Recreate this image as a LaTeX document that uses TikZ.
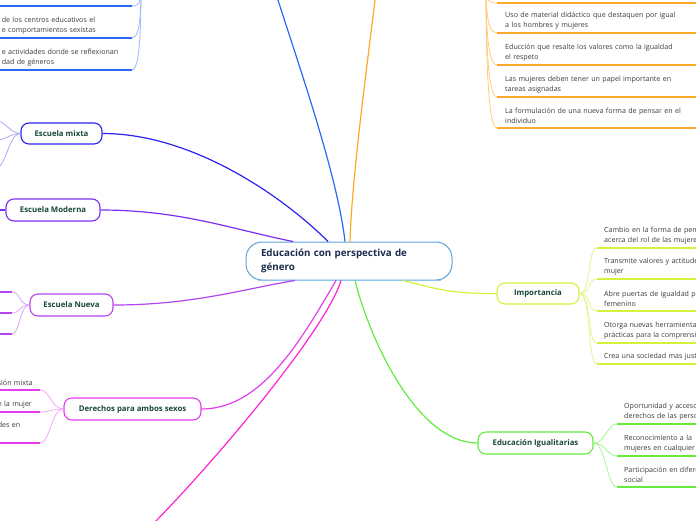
\documentclass[tikz,border=0pt]{standalone}
\usepackage{fontspec}
\setmainfont{Open Sans}
\usetikzlibrary{positioning}
\definecolor{ttl}{HTML}{17473A}
\definecolor{ctr}{HTML}{1C2A4E}
\definecolor{lft}{HTML}{3A3A3A}
\definecolor{ctrb}{HTML}{5CA2D8}
\definecolor{ctrl}{HTML}{8CC4EC}
\definecolor{blu}{HTML}{2A68F5}
\definecolor{blul}{HTML}{9DB9FF}
\definecolor{org}{HTML}{FFA726}
\definecolor{orgl}{HTML}{FFCB7A}
\definecolor{mix}{HTML}{2A22EE}
\definecolor{mixl}{HTML}{ADA6FF}
\definecolor{mod}{HTML}{7B2FF0}
\definecolor{nue}{HTML}{B444EE}
\definecolor{nuel}{HTML}{DBA4F6}
\definecolor{der}{HTML}{E43CEE}
\definecolor{derl}{HTML}{F2A6F6}
\definecolor{mag}{HTML}{FF22D2}
\definecolor{imp}{HTML}{D4F23C}
\definecolor{impl}{HTML}{E4F58C}
\definecolor{igu}{HTML}{62EC3C}
\definecolor{igul}{HTML}{A8F494}
\begin{document}
\begin{tikzpicture}[x=1pt,y=-1pt,
  br/.style={draw=#1,rounded corners=8pt,line width=1.1pt,minimum height=22pt,font=\fontsize{7.8}{9}\selectfont\bfseries,text=ttl},
  lf/.style={inner xsep=0pt,inner ysep=4pt,align=left,font=\fontsize{7.1}{10}\selectfont,text=lft},
  ul/.style={line width=2pt,draw=#1},
  cn/.style={line width=1.2pt,draw=#1},
  sb/.style={line width=0.8pt,draw=#1}]
\useasboundingbox (0,0) rectangle (696,520);
\clip (0,0) rectangle (696,520);
\node[draw=ctrb,line width=1pt,rounded corners=16pt,minimum width=206pt,minimum height=38pt,inner xsep=15pt,text width=176pt,align=left,font=\fontsize{9.8}{14}\selectfont\bfseries,text=ctr] (c0) at (349,261) {Educación con perspectiva de\\género};
\draw[line width=1.6pt,ctrl] ([xshift=12pt]c0.south west) -- ([xshift=-12pt]c0.south east);
\node[br=mix,minimum width=81pt,minimum height=21pt] (b1) at (61.5,133.5) {Escuela mixta};
\node[br=mod,minimum width=94pt] (b2) at (53,210) {Escuela Moderna};
\node[br=nue,minimum width=83pt] (b3) at (71.5,305) {Escuela Nueva};
\node[br=der,minimum width=137pt] (b4) at (132.5,409) {Derechos para ambos sexos};
\node[br=imp,minimum width=82pt,minimum height=21pt] (b5) at (538,293.5) {Importancia};
\node[br=igu,minimum width=115pt] (b6) at (535.5,443) {Educación Igualitarias};
\coordinate (tb) at (270,-25);
\coordinate (to) at (378,-25);
\coordinate (bm) at (150,527);
\coordinate (pL) at (141,-40);
\coordinate (pR) at (486,-40);
\coordinate (t1) at (132,6);
\coordinate (o1) at (497,3);
\coordinate (m1) at (-3,121);
\coordinate (m2) at (-3,140);
\coordinate (m3) at (0,166);
\coordinate (md) at (-3,210);
\coordinate (n1) at (12,292);
\coordinate (n2) at (12,313);
\coordinate (n3) at (12,334);
\node[lf,text width=130pt,anchor=south east] (t2) at (132,38) {de los centros educativos el\\e comportamientos sexistas};
\node[lf,text width=130pt,anchor=south east] (t3) at (132,70) {e actividades donde se reflexionan\\dad de géneros};
\node[lf,text width=200pt,inner xsep=8pt,anchor=south west] (o2) at (497,33) {Uso de material didáctico que destaquen por igual\\a los hombres y mujeres};
\node[lf,text width=200pt,inner xsep=8pt,anchor=south west] (o3) at (497,65) {Educción que resalte los valores como la igualdad\\el respeto};
\node[lf,text width=200pt,inner xsep=8pt,anchor=south west] (o4) at (497,97) {Las mujeres deben tener un papel importante en\\tareas asignadas};
\node[lf,text width=200pt,inner xsep=8pt,anchor=south west] (o5) at (497,128) {La formulación de una nueva forma de pensar en el\\individuo};
\node[lf,text width=120pt,inner xsep=7pt,anchor=south west] (i1) at (597,248) {Cambio en la forma de pensar\\acerca  del rol de las mujeres};
\node[lf,text width=120pt,inner xsep=7pt,anchor=south west] (i2) at (597,279) {Transmite valores y actitudes\\mujer};
\node[lf,text width=120pt,inner xsep=7pt,anchor=south west] (i3) at (597,311) {Abre puertas de igualdad  para\\femenino};
\node[lf,text width=120pt,inner xsep=7pt,anchor=south west] (i4) at (597,343) {Otorga nuevas herramientas\\prácticas para  la comprensión};
\node[lf,text width=120pt,inner xsep=7pt,anchor=south west] (i5) at (597,364) {Crea una sociedad mas justa};
\node[lf,text width=100pt,inner xsep=7pt,anchor=south west] (g1) at (617,424) {Oportunidad  y acceso a los\\derechos de las personas};
\node[lf,text width=100pt,inner xsep=7pt,anchor=south west] (g2) at (617,456) {Reconocimiento a la\\mujeres en cualquier};
\node[lf,text width=100pt,inner xsep=7pt,anchor=south west] (g3) at (617,487) {Participación en diferentes\\social};
\node[lf,text width=42pt,anchor=south east] (d1) at (40,390) {sión mixta};
\node[lf,text width=42pt,anchor=south east] (d2) at (40,412) {e la mujer};
\node[lf,text width=42pt,anchor=south east] (d3) at (40,432) {des en};
\draw[cn=mix] (b1.east) .. controls +(90,0) and +(-45,-45) .. ([xshift=-21pt]c0.north);
\draw[cn=mod] (b2.east) .. controls +(80,0) and +(-60,-12) .. ([xshift=-56pt]c0.north);
\draw[cn=nue] (b3.east) .. controls +(80,0) and +(-50,8) .. ([xshift=-54pt]c0.south);
\draw[cn=der] (b4.east) .. controls +(60,0) and +(-35,60) .. ([xshift=-13pt]c0.south);
\draw[cn=mag] ([xshift=-8pt]c0.south) .. controls +(-15,50) and +(60,-60) .. (bm);
\draw[cn=imp] (b5.west) .. controls +(-45,0) and +(40,10) .. ([xshift=54pt]c0.south);
\draw[cn=igu] (b6.west) .. controls +(-60,0) and +(15,60) .. ([xshift=6pt]c0.south);
\draw[cn=blu] ([xshift=-4pt]c0.north) .. controls +(-8,-70) and +(25,80) .. (tb);
\draw[cn=org] ([xshift=1pt]c0.north) .. controls +(2,-70) and +(-8,70) .. (to);
\draw[sb=blul] (pL) .. controls +(0,40) and +(10,0) .. (t1);
\draw[sb=blul] (pL) .. controls +(0,40) and +(10,0) .. (t2.south east);
\draw[sb=blul] (pL) .. controls +(0,40) and +(10,0) .. (t3.south east);
\draw[ul=blu] (t1) -- +(-140,0);
\draw[ul=blu] (t2.south east) -- +(-140,0);
\draw[ul=blu] (t3.south east) -- +(-140,0);
\draw[sb=orgl] (pR) .. controls +(0,40) and +(-12,0) .. (o1);
\draw[sb=orgl] (pR) .. controls +(0,40) and +(-12,0) .. (o2.south west);
\draw[sb=orgl] (pR) .. controls +(0,40) and +(-12,0) .. (o3.south west);
\draw[sb=orgl] (pR) .. controls +(0,40) and +(-12,0) .. (o4.south west);
\draw[sb=orgl] (pR) .. controls +(0,40) and +(-12,0) .. (o5.south west);
\draw[ul=org] (o1) -- +(210,0);
\draw[ul=org] (o2.south west) -- (o2.south east);
\draw[ul=org] (o3.south west) -- (o3.south east);
\draw[ul=org] (o4.south west) -- (o4.south east);
\draw[ul=org] (o5.south west) -- (o5.south east);
\draw[sb=mixl] (b1.west) .. controls +(-10,0) and +(8,0) .. (m1);
\draw[sb=mixl] (b1.west) .. controls +(-10,0) and +(8,0) .. (m2);
\draw[sb=mixl] (b1.west) .. controls +(-10,0) and +(8,-10) .. (m3);
\draw[cn=mod] (b2.west) -- (md);
\draw[sb=nuel] (b3.west) .. controls +(-10,0) and +(8,0) .. (n1);
\draw[sb=nuel] (b3.west) .. controls +(-10,0) and +(8,0) .. (n2);
\draw[sb=nuel] (b3.west) .. controls +(-10,0) and +(8,0) .. (n3);
\draw[ul=nue] (n1) -- +(-20,0);
\draw[ul=nue] (n2) -- +(-20,0);
\draw[ul=nue] (n3) -- +(-20,0);
\draw[sb=derl] (b4.west) .. controls +(-12,0) and +(10,0) .. (d1.south east);
\draw[sb=derl] (b4.west) .. controls +(-12,0) and +(10,0) .. (d2.south east);
\draw[sb=derl] (b4.west) .. controls +(-12,0) and +(10,0) .. ([yshift=-11pt]d3.south east);
\draw[ul=der] (d1.south west) -- (d1.south east);
\draw[ul=der] (d2.south west) -- (d2.south east);
\draw[ul=der] ([yshift=-11pt]d3.south west) -- ([yshift=-11pt]d3.south east);
\draw[sb=impl] (b5.east) .. controls +(12,0) and +(-10,0) .. (i1.south west);
\draw[sb=impl] (b5.east) .. controls +(12,0) and +(-10,0) .. (i2.south west);
\draw[sb=impl] (b5.east) .. controls +(12,0) and +(-10,0) .. (i3.south west);
\draw[sb=impl] (b5.east) .. controls +(12,0) and +(-10,0) .. (i4.south west);
\draw[sb=impl] (b5.east) .. controls +(12,0) and +(-10,0) .. (i5.south west);
\draw[ul=imp] (i1.south west) -- (i1.south east);
\draw[ul=imp] (i2.south west) -- (i2.south east);
\draw[ul=imp] (i3.south west) -- (i3.south east);
\draw[ul=imp] (i4.south west) -- (i4.south east);
\draw[ul=imp] (i5.south west) -- (i5.south east);
\draw[sb=igul] (b6.east) .. controls +(12,0) and +(-10,0) .. (g1.south west);
\draw[sb=igul] (b6.east) .. controls +(12,0) and +(-10,0) .. (g2.south west);
\draw[sb=igul] (b6.east) .. controls +(12,0) and +(-10,0) .. (g3.south west);
\draw[ul=igu] (g1.south west) -- (g1.south east);
\draw[ul=igu] (g2.south west) -- (g2.south east);
\draw[ul=igu] (g3.south west) -- (g3.south east);
\end{tikzpicture}
\end{document}
